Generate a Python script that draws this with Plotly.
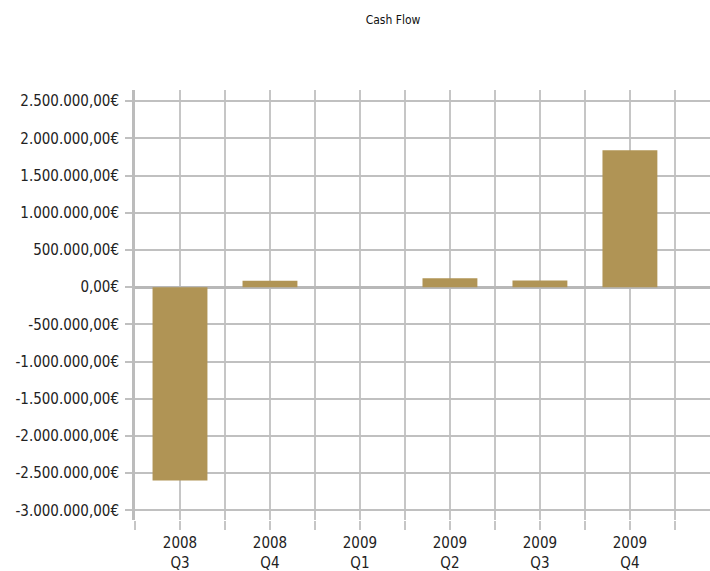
import plotly.graph_objects as go

categories = ["2008<br>Q3", "2008<br>Q4", "2009<br>Q1", "2009<br>Q2", "2009<br>Q3", "2009<br>Q4"]
values = [-2600000, 85000, 0, 120000, 90000, 1840000]
y_ticks = [-3000000, -2500000, -2000000, -1500000, -1000000, -500000, 0,
           500000, 1000000, 1500000, 2000000, 2500000]

def fmt(v):
    s = f"{abs(v):,.2f}".replace(",", "X").replace(".", ",").replace("X", ".")
    return ("-" if v < 0 else "") + s + "€"

y_text = [fmt(v) for v in y_ticks]
xpos = list(range(len(categories)))

fig = go.Figure(go.Bar(x=xpos, y=values, width=0.61, marker_color="#b09455",
                       marker_line_width=0))

grid = "#c6c6c6"
fig.update_layout(
    width=710, height=571,
    margin=dict(l=135, r=0, t=90, b=51),
    paper_bgcolor="white", plot_bgcolor="white",
    font=dict(family="DejaVu Sans Condensed", size=15, color="#222"),
    title=dict(text="Cash Flow", x=393/710, xanchor="center", y=1-20/571, yanchor="middle",
               font=dict(size=12, color="#111")),
    showlegend=False,
)
fig.update_xaxes(
    range=[-0.5, 5.89], tickmode="array", tickvals=xpos, ticktext=categories,
    showgrid=True, gridcolor=grid, gridwidth=1.5,
    ticks="outside", ticklen=9, tickcolor=grid, tickwidth=1.5,
    minor=dict(tick0=0.5, dtick=1, showgrid=True, gridcolor=grid, gridwidth=1.5,
               ticks="outside", ticklen=9, tickcolor=grid, tickwidth=1.5),
    showline=False, zeroline=False, fixedrange=True,
    tickfont=dict(size=15), ticklabelstandoff=0, automargin=False,
)
fig.update_yaxes(
    range=[-3130000, 2650000], tickmode="array", tickvals=y_ticks, ticktext=y_text,
    showgrid=True, gridcolor="#c0c0c0", gridwidth=2,
    ticks="outside", ticklen=7, tickcolor="#c0c0c0", tickwidth=2,
    showline=True, linecolor="#bcbcbc", linewidth=3,
    zeroline=True, zerolinecolor="#b8b8b8", zerolinewidth=3,
    ticklabelstandoff=3, automargin=False,
)
fig.write_html("out.html")
